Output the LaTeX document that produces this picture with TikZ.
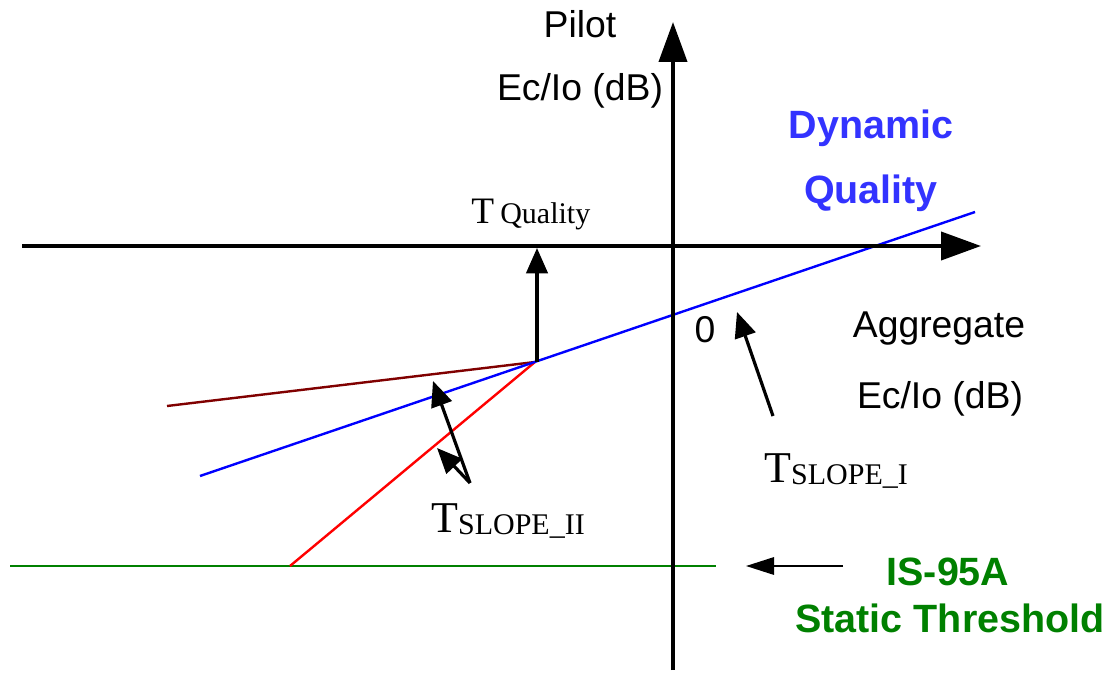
\documentclass[tikz,border=0pt]{standalone}
\usepackage{fontspec}
\setmainfont{Liberation Serif}
\setsansfont{Liberation Sans}
\usetikzlibrary{arrows.meta}
\definecolor{dynblue}{RGB}{51,51,255}
\definecolor{stgreen}{RGB}{0,128,0}
\definecolor{dred}{RGB}{128,0,0}
\newcommand{\Tsub}[1]{{\fontsize{33}{38}\selectfont T}\raisebox{-2pt}{\fontsize{22.5}{26}\selectfont #1}}
\begin{document}
\begin{tikzpicture}[x=0.75pt,y=-0.75pt,
  axisline/.style={line width=3pt,-{Triangle[length=30pt,width=21pt]}},
  ptr/.style={line width=2.4pt,-{Triangle[length=19pt,width=16pt]}},
  thinptr/.style={line width=1.6pt,-{Triangle[length=21pt,width=13pt]}},
  curve/.style={line width=1.8pt},
  lbl/.style={font=\sffamily\fontsize{28}{34}\selectfont,inner sep=0pt,anchor=base},
  blbl/.style={font=\sffamily\bfseries\fontsize{29.6}{35}\selectfont,inner sep=0pt,anchor=base},
  tlbl/.style={inner sep=0pt,anchor=base west}
]
\useasboundingbox (0,0) rectangle (1110,674);

% coordinates
\coordinate (xs) at (22,246);
\coordinate (xe) at (981,246);
\coordinate (ys) at (673,670);
\coordinate (ye) at (673,22);
\coordinate (bs) at (200,476);
\coordinate (be) at (975,212);
\coordinate (knee) at (535,362);
\coordinate (rs) at (167,406);
\coordinate (ds) at (290,566);
\coordinate (gs) at (10,566);
\coordinate (ge) at (716,566);
\coordinate (qa) at (537,362);
\coordinate (qb) at (537,248);
\coordinate (s2a) at (470,483);
\coordinate (s2b) at (433,381);
\coordinate (s2c) at (437,448);
\coordinate (s1a) at (773,416);
\coordinate (s1b) at (737,312);
\coordinate (isa) at (843,566);
\coordinate (isb) at (746,566);

% curves
\draw[curve,stgreen] (gs) -- (ge);
\draw[curve,dred] (rs) -- (knee);
\draw[curve,red] (ds) -- (knee);
\draw[curve,blue] (bs) -- (be);

% axes
\draw[axisline] (xs) -- (xe);
\draw[axisline] (ys) -- (ye);

% pointers
\draw[ptr] (qa) -- (qb);
\draw[ptr] (s2a) -- (s2b);
\draw[ptr] (s2a) -- (s2c);
\draw[ptr] (s1a) -- (s1b);
\draw[thinptr] (isa) -- (isb);

% labels
\node[lbl] (pilot) at (580,38) {Pilot};
\node[lbl] (pec) at (580,100) {Ec/Io (dB)};
\node[lbl] (agg) at (939,337) {Aggregate};
\node[lbl] (aec) at (940,408) {Ec/Io (dB)};
\node[lbl] (zero) at (705,342) {0};
\node[blbl,text=dynblue] (dyn) at (871,138) {Dynamic};
\node[blbl,text=dynblue] (dq) at (871,203) {Quality};
\node[blbl,text=stgreen] (is) at (948,585) {IS-95A};
\node[blbl,text=stgreen] (st) at (950,632) {Static Threshold};
\node[tlbl] (tq) at (471,223) {{\fontsize{28}{32}\selectfont T\,}{\fontsize{22.5}{26}\selectfont Quality}};
\node[tlbl] (ts1) at (764,482) {\Tsub{SLOPE\_I}};
\node[tlbl] (ts2) at (431,532) {\Tsub{SLOPE\_II}};
\end{tikzpicture}
\end{document}
